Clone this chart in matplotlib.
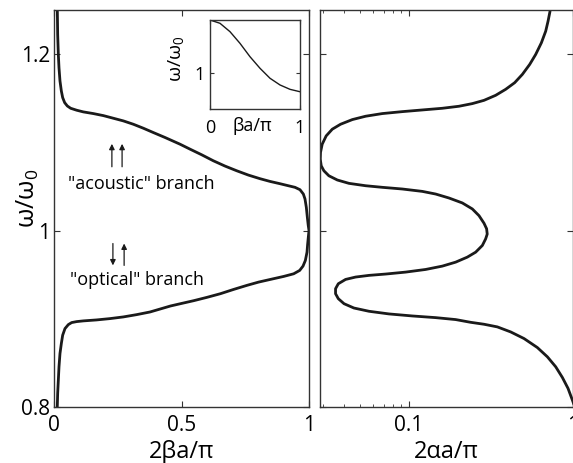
import matplotlib
matplotlib.use("Agg")
import matplotlib.pyplot as plt
from matplotlib.ticker import FixedLocator, NullFormatter

plt.rcParams['font.family'] = ['Open Sans', 'DejaVu Sans']
plt.rcParams['mathtext.fontset'] = 'custom'
plt.rcParams['mathtext.rm'] = 'Open Sans'
plt.rcParams['mathtext.it'] = 'Open Sans:italic'

# Real part of the Bloch wavenumber, 2*beta*a/pi, versus normalised frequency
beta = [0.0131, 0.0144, 0.0170, 0.0196, 0.0235, 0.0288, 0.0340, 0.0418,
        0.0523, 0.0654, 0.0889, 0.1150, 0.1542, 0.1935, 0.2327, 0.2719,
        0.3111, 0.3503, 0.3895, 0.4353, 0.4941, 0.5333, 0.5791, 0.6248,
        0.6706, 0.7163, 0.7621, 0.8078, 0.8471, 0.8863, 0.9190, 0.9451,
        0.9647, 0.9778, 0.9843, 0.9895, 0.9935, 0.9970, 1.0000, 0.9975,
        0.9945, 0.9922, 0.9857, 0.9765, 0.9634, 0.9399, 0.9007, 0.8484,
        0.8026, 0.7569, 0.7046, 0.6523, 0.6000, 0.5477, 0.5020, 0.4569,
        0.3765, 0.3242, 0.2719, 0.2196, 0.1673, 0.1150, 0.0889, 0.0693,
        0.0562, 0.0431, 0.0340, 0.0288, 0.0235, 0.0196, 0.0170, 0.0144,
        0.0131, 0.0125]
omega_beta = [1.2486, 1.2222, 1.1996, 1.1845, 1.1695, 1.1582, 1.1507, 1.1450,
              1.1412, 1.1386, 1.1364, 1.1345, 1.1326, 1.1303, 1.1273, 1.1243,
              1.1205, 1.1160, 1.1111, 1.1055, 1.0979, 1.0923, 1.0859, 1.0791,
              1.0731, 1.0678, 1.0629, 1.0588, 1.0557, 1.0531, 1.0508, 1.0490,
              1.0463, 1.0414, 1.0358, 1.0264, 1.0150, 1.0060, 1.0000, 0.9930,
              0.9840, 0.9755, 0.9661, 0.9597, 0.9548, 0.9510, 0.9480, 0.9446,
              0.9416, 0.9379, 0.9333, 0.9284, 0.9243, 0.9205, 0.9175, 0.9145,
              0.9077, 0.9047, 0.9021, 0.9002, 0.8987, 0.8976, 0.8968, 0.8957,
              0.8934, 0.8889, 0.8814, 0.8720, 0.8607, 0.8456, 0.8305, 0.8155,
              0.8023, 0.7980]

# Imaginary part, 2*alpha*a/pi (log scale), versus normalised frequency
alpha = [0.7244, 0.7045, 0.6817, 0.6415, 0.5922, 0.5445, 0.4912, 0.4410,
         0.3887, 0.3378, 0.2868, 0.2434, 0.2019, 0.1598, 0.1206, 0.0911,
         0.0688, 0.0545, 0.0452, 0.0383, 0.0341, 0.0313, 0.0296, 0.0289,
         0.0288, 0.0292, 0.0303, 0.0325, 0.0366, 0.0431, 0.0545, 0.0688,
         0.0911, 0.1206, 0.1455, 0.1754, 0.2115, 0.2434, 0.2673, 0.2868,
         0.2975, 0.3000, 0.2935, 0.2802, 0.2551, 0.2270, 0.1927, 0.1598,
         0.1264, 0.0954, 0.0721, 0.0571, 0.0473, 0.0411, 0.0371, 0.0357,
         0.0357, 0.0371, 0.0402, 0.0462, 0.0571, 0.0755, 0.1048, 0.1455,
         0.1927, 0.2377, 0.2868, 0.3458, 0.4170, 0.5028, 0.6062, 0.6978,
         0.7844, 0.8613, 0.9326, 0.9911, 1.0300]
omega_alpha = [1.2486, 1.2373, 1.2260, 1.2128, 1.1996, 1.1883, 1.1770, 1.1676,
               1.1601, 1.1533, 1.1476, 1.1439, 1.1409, 1.1386, 1.1367, 1.1348,
               1.1326, 1.1296, 1.1258, 1.1205, 1.1149, 1.1073, 1.0979, 1.0885,
               1.0810, 1.0734, 1.0678, 1.0621, 1.0573, 1.0535, 1.0508, 1.0490,
               1.0471, 1.0444, 1.0414, 1.0369, 1.0313, 1.0245, 1.0169, 1.0083,
               1.0020, 0.9960, 0.9906, 0.9831, 0.9755, 0.9699, 0.9642, 0.9597,
               0.9559, 0.9529, 0.9507, 0.9492, 0.9473, 0.9446, 0.9397, 0.9341,
               0.9284, 0.9228, 0.9171, 0.9122, 0.9085, 0.9055, 0.9032, 0.9013,
               0.8991, 0.8960, 0.8938, 0.8908, 0.8851, 0.8776, 0.8674, 0.8569,
               0.8456, 0.8335, 0.8211, 0.8079, 0.7990]

# Single-resonator dispersion shown in the inset
inset_beta = [0.0, 0.111, 0.222, 0.333, 0.444, 0.556, 0.667, 0.778, 0.889, 1.0]
inset_omega = [1.300, 1.2815, 1.2345, 1.169, 1.094, 1.0285, 0.9725, 0.935,
               0.9105, 0.897]

W, H = 573, 463
fig = plt.figure(figsize=(W / 100, H / 100), dpi=100)

bottom = (H - 407) / H
height = (407 - 10) / H
ax1 = fig.add_axes([54 / W, bottom, (309 - 54) / W, height])
ax2 = fig.add_axes([320 / W, bottom, (573 - 320) / W, height])
axin = fig.add_axes([210 / W, (H - 109) / H, 90 / W, 89 / H])

lc = '#1a1a1a'
spine_c = '#333333'

for ax in (ax1, ax2, axin):
    for s in ax.spines.values():
        s.set_color(spine_c)
        s.set_linewidth(1.0)
    ax.tick_params(direction='in', top=True, right=True, colors=spine_c,
                   labelcolor='black', length=4, width=0.8)
    ax.tick_params(which='minor', direction='in', top=True, right=True,
                   length=2, width=0.6, colors=spine_c)

# Left panel
ax1.plot(beta, omega_beta, color=lc, lw=2.0, solid_capstyle='round',
         solid_joinstyle='round')
ax1.set_xlim(0, 1)
ax1.set_ylim(0.8, 1.25)
ax1.set_xticks([0, 0.5, 1])
ax1.set_xticklabels(['0', '0.5', '1'])
ax1.set_yticks([0.8, 1.0, 1.2])
ax1.set_yticklabels(['0.8', '1', '1.2'])
ax1.tick_params(axis='y', labelsize=15, pad=3)
ax1.tick_params(axis='x', labelsize=15, pad=6)
ax1.set_xlabel('2βa/π', fontsize=17)
ax1.xaxis.set_label_coords(0.5, -0.083)
ax1.set_ylabel(r'$\mathregular{\omega/\omega_0}$', fontsize=18)
ax1.yaxis.set_label_coords(-0.05, 0.525)

arrow_kw = dict(arrowstyle='-|>', color=lc, lw=0.9, mutation_scale=8,
                shrinkA=0, shrinkB=0)
ax1.annotate('', xy=(0.227, 1.0983), xytext=(0.227, 1.0723), arrowprops=arrow_kw)
ax1.annotate('', xy=(0.267, 1.0983), xytext=(0.267, 1.0723), arrowprops=arrow_kw)
ax1.text(0.344, 1.0531, '"acoustic" branch', fontsize=13, ha='center', va='center')

ax1.annotate('', xy=(0.231, 0.9605), xytext=(0.231, 0.9853), arrowprops=arrow_kw)
ax1.annotate('', xy=(0.275, 0.9853), xytext=(0.275, 0.9605), arrowprops=arrow_kw)
ax1.text(0.327, 0.9435, '"optical" branch', fontsize=13, ha='center', va='center')

# Right panel
ax2.plot(alpha, omega_alpha, color=lc, lw=2.0, solid_capstyle='round',
         solid_joinstyle='round')
ax2.set_xscale('log')
ax2.set_xlim(0.0287, 1.0)
ax2.set_ylim(0.8, 1.25)
ax2.xaxis.set_major_locator(FixedLocator([0.1, 1.0]))
ax2.xaxis.set_minor_locator(FixedLocator([0.03, 0.04, 0.05, 0.06, 0.07, 0.08, 0.09]))
ax2.xaxis.set_minor_formatter(NullFormatter())
ax2.set_xticklabels(['0.1', '1'])
ax2.set_yticks([0.8, 1.0, 1.2])
ax2.set_yticklabels([])
ax2.tick_params(axis='x', labelsize=15, pad=6)
ax2.set_xlabel('2αa/π', fontsize=17)
ax2.xaxis.set_label_coords(0.5, -0.083)

# Inset
axin.plot(inset_beta, inset_omega, color=lc, lw=1.0)
axin.set_xlim(0, 1)
axin.set_ylim(0.8, 1.3)
axin.set_xticks([0, 1])
axin.set_xticklabels(['0', '1'])
axin.set_yticks([1.0])
axin.set_yticklabels(['1'])
axin.tick_params(axis='x', labelsize=13, pad=7, length=3)
axin.tick_params(axis='y', labelsize=13, pad=4, length=3)
axin.set_xlabel('βa/π', fontsize=13)
axin.xaxis.set_label_coords(0.47, -0.085)
axin.set_ylabel(r'$\mathregular{\omega/\omega_0}$', fontsize=14)
axin.yaxis.set_label_coords(-0.27, 0.56)

fig.savefig('out.png', dpi=100)
